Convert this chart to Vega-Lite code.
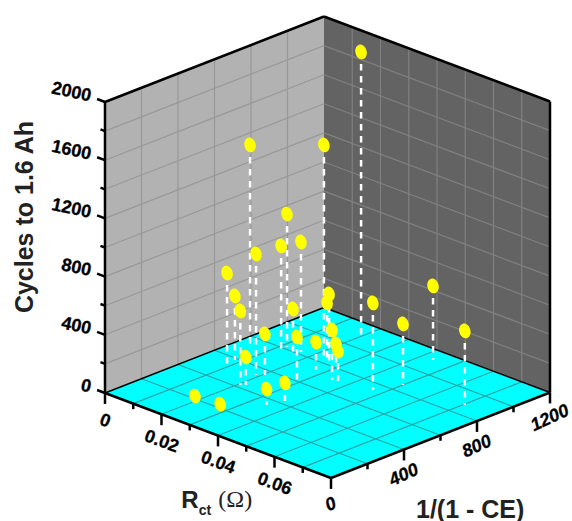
{"$schema":"https://vega.github.io/schema/vega-lite/v6.json","width":572,"height":521,"padding":0,"autosize":{"type":"none"},"background":"white","config":{"view":{"stroke":null}},
"data":{"values":[
{"g":"poly_l","rct":0,"inv":0,"cyc":2000,"rct2":0,"inv2":0,"cyc2":0},
{"g":"poly_l","rct":0,"inv":1200,"cyc":2000,"rct2":0,"inv2":1200,"cyc2":0},
{"g":"poly_r","rct":0,"inv":1200,"cyc":2000,"rct2":0,"inv2":1200,"cyc2":0},
{"g":"poly_r","rct":0.08,"inv":1200,"cyc":2000,"rct2":0.08,"inv2":1200,"cyc2":0},
{"g":"poly_f","rct":0,"inv":0,"cyc":0,"rct2":0,"inv2":0,"cyc2":0},
{"g":"poly_f","rct":0,"inv":1200,"cyc":0,"rct2":0.0775,"inv2":0,"cyc2":0},
{"g":"poly_f","rct":0.0025,"inv":1200,"cyc":0,"rct2":0.08,"inv2":0,"cyc2":0},
{"g":"poly_f","rct":0.08,"inv":1200,"cyc":0,"rct2":0.08,"inv2":1200,"cyc2":0},

{"g":"gl","rct":0,"inv":200,"cyc":0,"rct2":0,"inv2":200,"cyc2":2000},
{"g":"gl","rct":0,"inv":400,"cyc":0,"rct2":0,"inv2":400,"cyc2":2000},
{"g":"gl","rct":0,"inv":600,"cyc":0,"rct2":0,"inv2":600,"cyc2":2000},
{"g":"gl","rct":0,"inv":800,"cyc":0,"rct2":0,"inv2":800,"cyc2":2000},
{"g":"gl","rct":0,"inv":1000,"cyc":0,"rct2":0,"inv2":1000,"cyc2":2000},
{"g":"gl","rct":0,"inv":0,"cyc":200,"rct2":0,"inv2":1200,"cyc2":200},
{"g":"gl","rct":0,"inv":0,"cyc":400,"rct2":0,"inv2":1200,"cyc2":400},
{"g":"gl","rct":0,"inv":0,"cyc":600,"rct2":0,"inv2":1200,"cyc2":600},
{"g":"gl","rct":0,"inv":0,"cyc":800,"rct2":0,"inv2":1200,"cyc2":800},
{"g":"gl","rct":0,"inv":0,"cyc":1000,"rct2":0,"inv2":1200,"cyc2":1000},
{"g":"gl","rct":0,"inv":0,"cyc":1200,"rct2":0,"inv2":1200,"cyc2":1200},
{"g":"gl","rct":0,"inv":0,"cyc":1400,"rct2":0,"inv2":1200,"cyc2":1400},
{"g":"gl","rct":0,"inv":0,"cyc":1600,"rct2":0,"inv2":1200,"cyc2":1600},
{"g":"gl","rct":0,"inv":0,"cyc":1800,"rct2":0,"inv2":1200,"cyc2":1800},

{"g":"gr","rct":0.01,"inv":1200,"cyc":0,"rct2":0.01,"inv2":1200,"cyc2":2000},
{"g":"gr","rct":0.02,"inv":1200,"cyc":0,"rct2":0.02,"inv2":1200,"cyc2":2000},
{"g":"gr","rct":0.03,"inv":1200,"cyc":0,"rct2":0.03,"inv2":1200,"cyc2":2000},
{"g":"gr","rct":0.04,"inv":1200,"cyc":0,"rct2":0.04,"inv2":1200,"cyc2":2000},
{"g":"gr","rct":0.05,"inv":1200,"cyc":0,"rct2":0.05,"inv2":1200,"cyc2":2000},
{"g":"gr","rct":0.06,"inv":1200,"cyc":0,"rct2":0.06,"inv2":1200,"cyc2":2000},
{"g":"gr","rct":0.07,"inv":1200,"cyc":0,"rct2":0.07,"inv2":1200,"cyc2":2000},
{"g":"gr","rct":0,"inv":1200,"cyc":200,"rct2":0.08,"inv2":1200,"cyc2":200},
{"g":"gr","rct":0,"inv":1200,"cyc":400,"rct2":0.08,"inv2":1200,"cyc2":400},
{"g":"gr","rct":0,"inv":1200,"cyc":600,"rct2":0.08,"inv2":1200,"cyc2":600},
{"g":"gr","rct":0,"inv":1200,"cyc":800,"rct2":0.08,"inv2":1200,"cyc2":800},
{"g":"gr","rct":0,"inv":1200,"cyc":1000,"rct2":0.08,"inv2":1200,"cyc2":1000},
{"g":"gr","rct":0,"inv":1200,"cyc":1200,"rct2":0.08,"inv2":1200,"cyc2":1200},
{"g":"gr","rct":0,"inv":1200,"cyc":1400,"rct2":0.08,"inv2":1200,"cyc2":1400},
{"g":"gr","rct":0,"inv":1200,"cyc":1600,"rct2":0.08,"inv2":1200,"cyc2":1600},
{"g":"gr","rct":0,"inv":1200,"cyc":1800,"rct2":0.08,"inv2":1200,"cyc2":1800},

{"g":"gf","rct":0.01,"inv":0,"cyc":0,"rct2":0.01,"inv2":1200,"cyc2":0},
{"g":"gf","rct":0.02,"inv":0,"cyc":0,"rct2":0.02,"inv2":1200,"cyc2":0},
{"g":"gf","rct":0.03,"inv":0,"cyc":0,"rct2":0.03,"inv2":1200,"cyc2":0},
{"g":"gf","rct":0.04,"inv":0,"cyc":0,"rct2":0.04,"inv2":1200,"cyc2":0},
{"g":"gf","rct":0.05,"inv":0,"cyc":0,"rct2":0.05,"inv2":1200,"cyc2":0},
{"g":"gf","rct":0.06,"inv":0,"cyc":0,"rct2":0.06,"inv2":1200,"cyc2":0},
{"g":"gf","rct":0.07,"inv":0,"cyc":0,"rct2":0.07,"inv2":1200,"cyc2":0},
{"g":"gf","rct":0,"inv":200,"cyc":0,"rct2":0.08,"inv2":200,"cyc2":0},
{"g":"gf","rct":0,"inv":400,"cyc":0,"rct2":0.08,"inv2":400,"cyc2":0},
{"g":"gf","rct":0,"inv":600,"cyc":0,"rct2":0.08,"inv2":600,"cyc2":0},
{"g":"gf","rct":0,"inv":800,"cyc":0,"rct2":0.08,"inv2":800,"cyc2":0},
{"g":"gf","rct":0,"inv":1000,"cyc":0,"rct2":0.08,"inv2":1000,"cyc2":0},

{"g":"thin","rct":0,"inv":0,"cyc":0,"rct2":0,"inv2":1200,"cyc2":0},
{"g":"thin","rct":0,"inv":1200,"cyc":0,"rct2":0.08,"inv2":1200,"cyc2":0},

{"g":"axis","rct":0,"inv":0,"cyc":0,"rct2":0,"inv2":0,"cyc2":2000},
{"g":"axis","rct":0,"inv":0,"cyc":2000,"rct2":0,"inv2":1200,"cyc2":2000},
{"g":"axis","rct":0,"inv":1200,"cyc":2000,"rct2":0.08,"inv2":1200,"cyc2":2000},
{"g":"axis","rct":0.08,"inv":1200,"cyc":2000,"rct2":0.08,"inv2":1200,"cyc2":0},
{"g":"axis","rct":0,"inv":0,"cyc":0,"rct2":0.08,"inv2":0,"cyc2":0},
{"g":"axis","rct":0.08,"inv":0,"cyc":0,"rct2":0.08,"inv2":1200,"cyc2":0},

{"g":"axis","rct":-0.0028,"inv":0,"cyc":0,"rct2":0,"inv2":0,"cyc2":0},
{"g":"axis","rct":-0.0016,"inv":0,"cyc":200,"rct2":0,"inv2":0,"cyc2":200},
{"g":"axis","rct":-0.0028,"inv":0,"cyc":400,"rct2":0,"inv2":0,"cyc2":400},
{"g":"axis","rct":-0.0016,"inv":0,"cyc":600,"rct2":0,"inv2":0,"cyc2":600},
{"g":"axis","rct":-0.0028,"inv":0,"cyc":800,"rct2":0,"inv2":0,"cyc2":800},
{"g":"axis","rct":-0.0016,"inv":0,"cyc":1000,"rct2":0,"inv2":0,"cyc2":1000},
{"g":"axis","rct":-0.0028,"inv":0,"cyc":1200,"rct2":0,"inv2":0,"cyc2":1200},
{"g":"axis","rct":-0.0016,"inv":0,"cyc":1400,"rct2":0,"inv2":0,"cyc2":1400},
{"g":"axis","rct":-0.0028,"inv":0,"cyc":1600,"rct2":0,"inv2":0,"cyc2":1600},
{"g":"axis","rct":-0.0016,"inv":0,"cyc":1800,"rct2":0,"inv2":0,"cyc2":1800},
{"g":"axis","rct":-0.0028,"inv":0,"cyc":2000,"rct2":0,"inv2":0,"cyc2":2000},

{"g":"axis","rct":0,"inv":0,"cyc":0,"rct2":0,"inv2":0,"cyc2":-75},
{"g":"axis","rct":0.01,"inv":0,"cyc":0,"rct2":0.01,"inv2":0,"cyc2":-38},
{"g":"axis","rct":0.02,"inv":0,"cyc":0,"rct2":0.02,"inv2":0,"cyc2":-75},
{"g":"axis","rct":0.03,"inv":0,"cyc":0,"rct2":0.03,"inv2":0,"cyc2":-38},
{"g":"axis","rct":0.04,"inv":0,"cyc":0,"rct2":0.04,"inv2":0,"cyc2":-75},
{"g":"axis","rct":0.05,"inv":0,"cyc":0,"rct2":0.05,"inv2":0,"cyc2":-38},
{"g":"axis","rct":0.06,"inv":0,"cyc":0,"rct2":0.06,"inv2":0,"cyc2":-75},
{"g":"axis","rct":0.07,"inv":0,"cyc":0,"rct2":0.07,"inv2":0,"cyc2":-38},
{"g":"axis","rct":0.08,"inv":0,"cyc":0,"rct2":0.08,"inv2":0,"cyc2":-75},
{"g":"axis","rct":0.08,"inv":200,"cyc":0,"rct2":0.08,"inv2":200,"cyc2":-38},
{"g":"axis","rct":0.08,"inv":400,"cyc":0,"rct2":0.08,"inv2":400,"cyc2":-75},
{"g":"axis","rct":0.08,"inv":600,"cyc":0,"rct2":0.08,"inv2":600,"cyc2":-38},
{"g":"axis","rct":0.08,"inv":800,"cyc":0,"rct2":0.08,"inv2":800,"cyc2":-75},
{"g":"axis","rct":0.08,"inv":1000,"cyc":0,"rct2":0.08,"inv2":1000,"cyc2":-38},
{"g":"axis","rct":0.08,"inv":1200,"cyc":0,"rct2":0.08,"inv2":1200,"cyc2":-75},

{"g":"p","rct":0.0203,"inv":1089,"cyc":1959},
{"g":"p","rct":0.0242,"inv":825,"cyc":1478},
{"g":"p","rct":0.0058,"inv":705,"cyc":1402},
{"g":"p","rct":0.0116,"inv":818,"cyc":914},
{"g":"p","rct":0.0164,"inv":820,"cyc":756},
{"g":"p","rct":0.0119,"inv":781,"cyc":715},
{"g":"p","rct":0.0189,"inv":535,"cyc":832},
{"g":"p","rct":0.0091,"inv":528,"cyc":632},
{"g":"p","rct":0.0082,"inv":585,"cyc":440},
{"g":"p","rct":0.0207,"inv":421,"cyc":509},
{"g":"p","rct":0.015,"inv":798,"cyc":296},
{"g":"p","rct":0.0205,"inv":559,"cyc":282},
{"g":"p","rct":0.0305,"inv":580,"cyc":323},
{"g":"p","rct":0.0274,"inv":732,"cyc":192},
{"g":"p","rct":0.0217,"inv":436,"cyc":192},
{"g":"p","rct":0.0361,"inv":427,"cyc":124},
{"g":"p","rct":0.0347,"inv":348,"cyc":110},
{"g":"p","rct":0.0218,"inv":156,"cyc":62},
{"g":"p","rct":0.0314,"inv":145,"cyc":82},
{"g":"p","rct":0.0279,"inv":796,"cyc":495},
{"g":"p","rct":0.0248,"inv":833,"cyc":392},
{"g":"p","rct":0.0349,"inv":704,"cyc":344},
{"g":"p","rct":0.0301,"inv":800,"cyc":165},
{"g":"p","rct":0.0365,"inv":712,"cyc":206},
{"g":"p","rct":0.0469,"inv":742,"cyc":598},
{"g":"p","rct":0.05,"inv":859,"cyc":419},
{"g":"p","rct":0.0439,"inv":1118,"cyc":509},
{"g":"p","rct":0.0704,"inv":882,"cyc":509},

{"g":"ly","label":"0","rct":-0.005,"inv":0,"cyc":0},
{"g":"ly","label":"400","rct":-0.005,"inv":0,"cyc":400},
{"g":"ly","label":"800","rct":-0.005,"inv":0,"cyc":800},
{"g":"ly","label":"1200","rct":-0.005,"inv":0,"cyc":1200},
{"g":"ly","label":"1600","rct":-0.005,"inv":0,"cyc":1600},
{"g":"ly","label":"2000","rct":-0.005,"inv":0,"cyc":2000},
{"g":"lr","label":"0","rct":0,"inv":0,"cyc":-195},
{"g":"lr","label":"0.02","rct":0.02,"inv":0,"cyc":-190},
{"g":"lr","label":"0.04","rct":0.04,"inv":0,"cyc":-190},
{"g":"lr","label":"0.06","rct":0.06,"inv":0,"cyc":-190},
{"g":"li","label":"0","rct":0.08,"inv":0,"cyc":-185},
{"g":"li","label":"400","rct":0.08,"inv":400,"cyc":-178},
{"g":"li","label":"800","rct":0.08,"inv":800,"cyc":-178},
{"g":"li","label":"1200","rct":0.08,"inv":1200,"cyc":-178},
{"g":"ty","label":"Cycles to 1.6 Ah","rct":-0.0283,"inv":0,"cyc":1003},
{"g":"ti","label":"1/(1 - CE)","rct":0.1199,"inv":145,"cyc":0},
{"g":"tR","label":"R","rct":0.0652,"inv":-544,"cyc":0},
{"g":"tc","label":"ct","rct":0.0725,"inv":-575,"cyc":0},
{"g":"to","label":"(Ω)","rct":0.0729,"inv":-415,"cyc":0}
]},
"transform":[
{"calculate":"105+datum.rct*2825+datum.inv*0.1825","as":"h"},
{"calculate":"393+datum.rct*1062.5-datum.inv*0.07125-datum.cyc*0.1455","as":"v"},
{"calculate":"105+datum.rct2*2825+datum.inv2*0.1825","as":"h2"},
{"calculate":"393+datum.rct2*1062.5-datum.inv2*0.07125-datum.cyc2*0.1455","as":"v2"},
{"calculate":"393+datum.rct*1062.5-datum.inv*0.07125","as":"vfloor"}
],
"encoding":{
"x":{"field":"h","type":"quantitative","scale":{"domain":[0,572],"nice":false,"zero":false},"axis":null},
"y":{"field":"v","type":"quantitative","scale":{"domain":[521,0],"nice":false,"zero":false},"axis":null}
},
"layer":[
{"transform":[{"filter":"datum.g==='poly_l'"}],"mark":{"type":"area","color":"#b2b2b2"},"encoding":{"y2":{"field":"v2"}}},
{"transform":[{"filter":"datum.g==='poly_r'"}],"mark":{"type":"area","color":"#636363"},"encoding":{"y2":{"field":"v2"}}},
{"transform":[{"filter":"datum.g==='poly_f'"}],"mark":{"type":"area","color":"#00ffff"},"encoding":{"y2":{"field":"v2"}}},
{"transform":[{"filter":"datum.g==='gl'"}],"mark":{"type":"rule","color":"#989898","strokeWidth":1.2},"encoding":{"x2":{"field":"h2"},"y2":{"field":"v2"}}},
{"transform":[{"filter":"datum.g==='gr'"}],"mark":{"type":"rule","color":"#808080","strokeWidth":1.2},"encoding":{"x2":{"field":"h2"},"y2":{"field":"v2"}}},
{"transform":[{"filter":"datum.g==='gf'"}],"mark":{"type":"rule","color":"#2aa4a8","strokeWidth":1.2},"encoding":{"x2":{"field":"h2"},"y2":{"field":"v2"}}},
{"transform":[{"filter":"datum.g==='thin'"}],"mark":{"type":"rule","color":"#000000","strokeWidth":1.5},"encoding":{"x2":{"field":"h2"},"y2":{"field":"v2"}}},
{"transform":[{"filter":"datum.g==='axis'"}],"mark":{"type":"rule","color":"#000000","strokeWidth":2.5},"encoding":{"x2":{"field":"h2"},"y2":{"field":"v2"}}},
{"transform":[{"filter":"datum.g==='p'"}],"mark":{"type":"rule","color":"#ffffff","strokeWidth":2.5,"strokeDash":[6.5,5.5]},"encoding":{"y2":{"field":"vfloor"}}},
{"transform":[{"filter":"datum.g==='p'"}],"mark":{"type":"point","filled":true,"opacity":1,"color":"#ffff00","strokeWidth":0,"size":225,"shape":"M-0.259,-0.966C0.141,-1.073,0.582,-0.728,0.725,-0.194C0.868,0.34,0.659,0.859,0.259,0.966C-0.141,1.073,-0.582,0.728,-0.725,0.194C-0.868,-0.34,-0.659,-0.859,-0.259,-0.966Z"}},
{"transform":[{"filter":"datum.g==='ly'"}],"mark":{"type":"text","font":"Liberation Sans","fontWeight":"bold","fontSize":18,"align":"right","baseline":"middle","angle":12,"color":"#000","stroke":"#000","strokeWidth":0.3},"encoding":{"text":{"field":"label"}}},
{"transform":[{"filter":"datum.g==='lr'"}],"mark":{"type":"text","font":"Liberation Sans","fontWeight":"bold","fontSize":18,"align":"center","baseline":"middle","angle":20,"color":"#000","stroke":"#000","strokeWidth":0.3},"encoding":{"text":{"field":"label"}}},
{"transform":[{"filter":"datum.g==='li'"}],"mark":{"type":"text","font":"Liberation Sans","fontWeight":"bold","fontStyle":"italic","fontSize":18,"align":"center","baseline":"middle","angle":-25,"color":"#000","stroke":"#000","strokeWidth":0.3},"encoding":{"text":{"field":"label"}}},
{"transform":[{"filter":"datum.g==='ty'"}],"mark":{"type":"text","font":"Liberation Sans","fontWeight":"bold","fontSize":25,"align":"center","baseline":"middle","angle":270,"color":"#222"},"encoding":{"text":{"field":"label"}}},
{"transform":[{"filter":"datum.g==='ti'"}],"mark":{"type":"text","font":"Liberation Sans","fontWeight":"bold","fontSize":25,"align":"center","baseline":"middle","color":"#222"},"encoding":{"text":{"field":"label"}}},
{"transform":[{"filter":"datum.g==='tR'"}],"mark":{"type":"text","font":"Liberation Sans","fontWeight":"bold","fontSize":24,"align":"center","baseline":"middle","color":"#222"},"encoding":{"text":{"field":"label"}}},
{"transform":[{"filter":"datum.g==='tc'"}],"mark":{"type":"text","font":"Liberation Sans","fontWeight":"bold","fontSize":14,"align":"center","baseline":"middle","color":"#222"},"encoding":{"text":{"field":"label"}}},
{"transform":[{"filter":"datum.g==='to'"}],"mark":{"type":"text","font":"Liberation Serif","fontSize":24,"align":"center","baseline":"middle","color":"#222"},"encoding":{"text":{"field":"label"}}}
]}
